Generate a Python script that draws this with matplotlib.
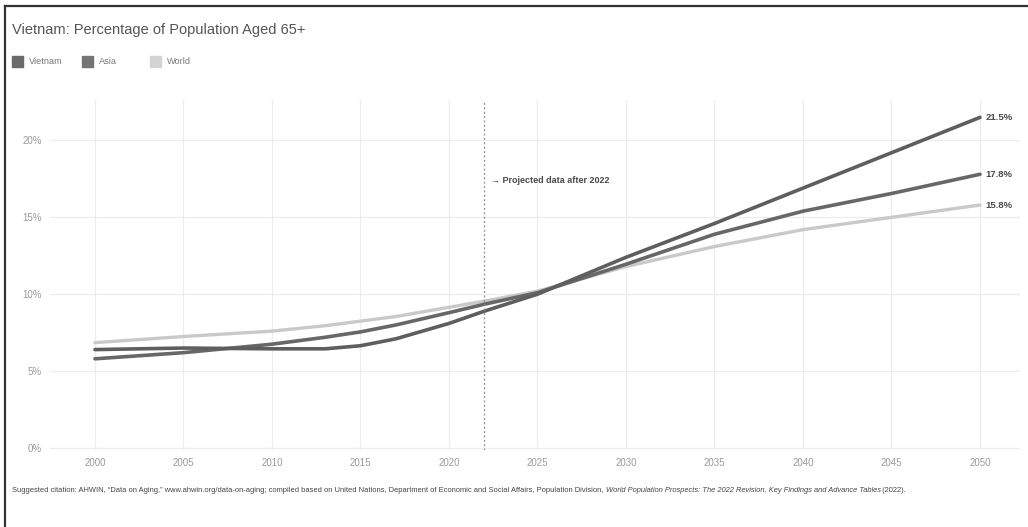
import matplotlib
matplotlib.use("Agg")
import matplotlib.pyplot as plt
from matplotlib.lines import Line2D
from matplotlib.patches import Rectangle

years = [2000, 2005, 2010, 2013, 2015, 2017, 2020, 2022, 2025, 2030, 2035, 2040, 2045, 2050]
vietnam = [6.4, 6.5, 6.45, 6.45, 6.65, 7.1, 8.1, 8.9, 10.0, 12.4, 14.6, 16.9, 19.2, 21.5]
asia = [5.8, 6.2, 6.75, 7.2, 7.55, 8.0, 8.8, 9.35, 10.1, 11.95, 13.9, 15.4, 16.55, 17.8]
world = [6.85, 7.25, 7.6, 7.95, 8.25, 8.55, 9.15, 9.55, 10.2, 11.8, 13.1, 14.2, 15.0, 15.8]
end_labels = ["21.5%", "17.8%", "15.8%"]
xticks = list(range(2000, 2051, 5))
yticks = [0, 5, 10, 15, 20]
proj_year = 2022

W, H = 1028, 527
fig = plt.figure(figsize=(W / 100, H / 100), dpi=100)
fig.patch.set_facecolor("white")

sans = ["Liberation Sans", "DejaVu Sans"]

# axes placed in pixel terms
l, r, t, b = 50, 1020, 100, 450
ax = fig.add_axes([l / W, 1 - b / H, (r - l) / W, (b - t) / H])
ax.set_xlim(1997.46, 2052.26)
ax.set_ylim(-0.13, 22.63)
for s in ax.spines.values():
    s.set_visible(False)
ax.set_xticks(xticks)
ax.set_yticks(yticks)
ax.set_yticklabels([f"{v}%" for v in yticks])
ax.tick_params(length=0, labelsize=7, colors="#9a9a9a", pad=6)
for lab in ax.get_xticklabels() + ax.get_yticklabels():
    lab.set_family(sans)
ax.grid(True, color="#ededed", lw=0.9)
ax.set_axisbelow(True)

ax.plot(years, world, color="#c9c9c9", lw=2.4, solid_capstyle="round")
ax.plot(years, asia, color="#676767", lw=2.6, solid_capstyle="round")
ax.plot(years, vietnam, color="#5e5e5e", lw=2.6, solid_capstyle="round")

ax.axvline(proj_year, color="#8a8a8a", lw=0.9, ls=(0, (1.5, 2)))
ax.text(proj_year + 0.4, 17.4, "\u2192 Projected data after 2022", fontsize=6.5,
        fontweight="bold", color="#4a4a4a", family=sans, va="center")

for vals, lab in zip([vietnam, asia, world], end_labels):
    ax.text(years[-1] + 0.3, vals[-1], lab, fontsize=6.8, fontweight="bold",
            color="#4a4a4a", family=sans, va="center")

# title and legend
fig.text(12 / W, 1 - 30 / H, "Vietnam: Percentage of Population Aged 65+", fontsize=10.5,
         color="#555555", family=sans, va="center")
leg = [("Vietnam", "#6a6a6a", 12), ("Asia", "#747474", 82), ("World", "#d3d3d3", 150)]
for name, col, x0 in leg:
    fig.add_artist(Rectangle((x0 / W, 1 - 67 / H), 11 / W, 11 / H, color=col,
                             transform=fig.transFigure))
    fig.text((x0 + 17) / W, 1 - 62 / H, name, fontsize=6.6, color="#777777",
             family=sans, va="center")

# citation with italic part, sized to span like the reference
parts = [
    ("Suggested citation: AHWIN, \u201cData on Aging,\u201d www.ahwin.org/data-on-aging; compiled based on United Nations, "
     "Department of Economic and Social Affairs, Population Division, ", "normal"),
    ("World Population Prospects: The 2022 Revision, Key Findings and Advance Tables", "italic"),
    (" (2022).", "normal"),
]
fig.canvas.draw()
renderer = fig.canvas.get_renderer()
fs = 6.3
total = 0
for txt, style in parts:
    tmp = fig.text(0, 0, txt, fontsize=fs, style=style, family=sans)
    total += tmp.get_window_extent(renderer).width
    tmp.remove()
fs = fs * 893 / total
xpos = 12
for txt, style in parts:
    tx = fig.text(xpos / W, 1 - 490 / H, txt, fontsize=fs, style=style, color="#444444",
                  family=sans, va="center")
    xpos += tx.get_window_extent(renderer).width

# frame lines top and left
fig.add_artist(Line2D([5 / W, 1], [1 - 6 / H, 1 - 6 / H], color="#333333", lw=1.6,
                      transform=fig.transFigure))
fig.add_artist(Line2D([5 / W, 5 / W], [0, 1 - 6 / H], color="#333333", lw=1.6,
                      transform=fig.transFigure))

fig.savefig("out.png", dpi=100, facecolor="white")
